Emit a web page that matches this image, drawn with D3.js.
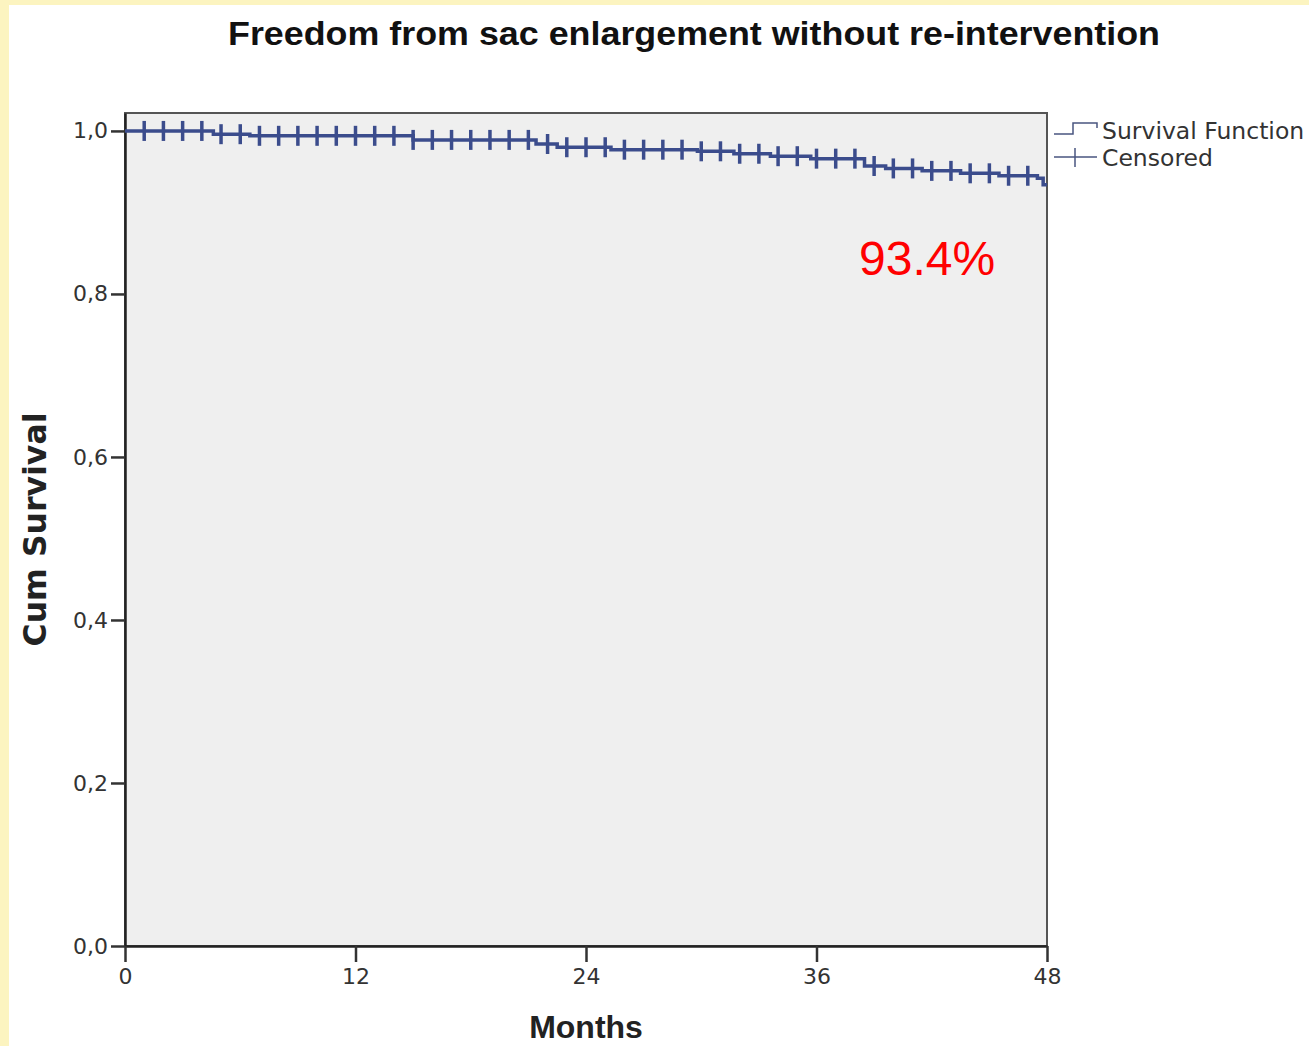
<!DOCTYPE html>
<html>
<head>
<meta charset="utf-8">
<script src="https://cdn.jsdelivr.net/npm/d3@7"></script>
<style>
  html, body { margin: 0; padding: 0; background: #fff; }
  svg { display: block; }
</style>
</head>
<body>
<div id="chart"></div>
<script>
const width = 1309;
const height = 1046;

// step function of the Kaplan-Meier curve (months, cum survival)
const stepTimes = [0, 4.6, 6.5, 15.0, 21.4, 22.5, 25.3, 29.8, 31.7, 33.6, 35.7, 38.5, 39.6, 41.5, 43.5, 45.5, 47.5, 47.8];
const stepSurvival = [1.000, 0.996, 0.994, 0.989, 0.984, 0.980, 0.977, 0.975, 0.972, 0.969, 0.966, 0.957, 0.954, 0.951, 0.948, 0.945, 0.942, 0.934];
const endTime = 48;

// censored cases
const censorTimes = [1, 2, 3, 4, 5, 6, 7, 8, 9, 10, 11, 12, 13, 14, 15, 16, 17, 18, 19, 20, 21, 22, 23, 24,
  25, 26, 27, 28, 29, 30, 31, 32, 33, 34, 35, 36, 37, 38, 39, 40, 41, 42, 43, 44, 45, 46, 47];

const xTicks = [0, 12, 24, 36, 48];
const yTicks = [0, 0.2, 0.4, 0.6, 0.8, 1.0];

const titleText = "Freedom from sac enlargement without re-intervention";
const xTitle = "Months";
const yTitle = "Cum Survival";
const legendLabels = ["Survival Function", "Censored"];
const annotation = "93.4%";

const lineColor = "#3b4c8c";
const margin = { left: 125, right: 1047, top: 113, bottom: 946 };

const svg = d3.select("#chart").append("svg")
  .attr("width", width)
  .attr("height", height);

// yellow page frame
svg.append("rect").attr("x", 0).attr("y", 0).attr("width", width).attr("height", height).attr("fill", "#fcf4c0");
svg.append("rect").attr("x", 9).attr("y", 5).attr("width", width - 9).attr("height", height - 5).attr("fill", "#ffffff");

const x = d3.scaleLinear().domain([0, 48]).range([margin.left, margin.right]);
const y = d3.scaleLinear().domain([0, 1.022]).range([margin.bottom, margin.top]);

// plot background
svg.append("rect")
  .attr("x", x(0)).attr("y", y(1.022))
  .attr("width", x(48) - x(0)).attr("height", y(0) - y(1.022))
  .attr("fill", "#efefef")
  .attr("stroke", "#555")
  .attr("stroke-width", 2);

const comma = d3.formatLocale({ decimal: ",", thousands: ".", grouping: [3], currency: ["", ""] });
const fmt = comma.format(".1f");

// axes
const yAxis = svg.append("g")
  .attr("transform", `translate(${x(0)},0)`)
  .call(d3.axisLeft(y).tickValues(yTicks).tickFormat(fmt).tickSize(14).tickPadding(3).tickSizeOuter(0));

const xAxis = svg.append("g")
  .attr("transform", `translate(0,${y(0)})`)
  .call(d3.axisBottom(x).tickValues(xTicks).tickSize(16).tickPadding(6).tickSizeOuter(0));

[yAxis, xAxis].forEach(g => {
  g.select(".domain").attr("stroke", "#222").attr("stroke-width", 2.5);
  g.selectAll(".tick line").attr("stroke", "#333").attr("stroke-width", 2.5);
  g.selectAll(".tick text")
    .attr("fill", "#333")
    .style("font-family", "'DejaVu Sans', sans-serif")
    .style("font-size", "22px");
});

// survival curve
const pts = stepTimes.map((t, i) => [t, stepSurvival[i]]);
pts.push([endTime, stepSurvival[stepSurvival.length - 1]]);

const line = d3.line()
  .x(d => x(d[0]))
  .y(d => y(d[1]))
  .curve(d3.curveStepAfter);

svg.append("path")
  .datum(pts)
  .attr("fill", "none")
  .attr("stroke", lineColor)
  .attr("stroke-width", 3.5)
  .attr("d", line);

function survivalAt(t) {
  const i = d3.bisectRight(stepTimes, t) - 1;
  return stepSurvival[Math.max(0, i)];
}

svg.append("g")
  .selectAll("line")
  .data(censorTimes)
  .enter().append("line")
  .attr("x1", d => x(d))
  .attr("x2", d => x(d))
  .attr("y1", d => y(survivalAt(d)) - 10)
  .attr("y2", d => y(survivalAt(d)) + 10)
  .attr("stroke", lineColor)
  .attr("stroke-width", 3.5);

// titles
svg.append("text")
  .attr("x", 694).attr("y", 45)
  .attr("text-anchor", "middle")
  .style("font-family", "'Liberation Sans', Arial, sans-serif")
  .style("font-weight", "bold")
  .style("font-size", "34px")
  .attr("textLength", 932)
  .attr("lengthAdjust", "spacingAndGlyphs")
  .attr("fill", "#111")
  .text(titleText);

svg.append("text")
  .attr("x", (x(0) + x(48)) / 2).attr("y", 1038)
  .attr("text-anchor", "middle")
  .style("font-family", "'Liberation Sans', Arial, sans-serif")
  .style("font-weight", "bold")
  .style("font-size", "32px")
  .attr("fill", "#222")
  .text(xTitle);

svg.append("text")
  .attr("transform", `translate(46,${(y(0) + y(1.022)) / 2}) rotate(-90)`)
  .attr("text-anchor", "middle")
  .style("font-family", "'DejaVu Sans', sans-serif")
  .style("font-weight", "bold")
  .style("font-size", "31.5px")
  .attr("fill", "#222")
  .text(yTitle);

// annotation
svg.append("text")
  .attr("x", 859).attr("y", 275)
  .style("font-family", "'Liberation Sans', Arial, sans-serif")
  .style("font-size", "48px")
  .attr("fill", "#ff0000")
  .text(annotation);

// legend
const legend = svg.append("g");
legend.append("path")
  .attr("d", "M1054,134 H1073 V123 H1097 V128")
  .attr("fill", "none")
  .attr("stroke", "#4a5680")
  .attr("stroke-width", 1.5);
legend.append("path")
  .attr("d", "M1054,157 H1097 M1075,148 V167")
  .attr("fill", "none")
  .attr("stroke", "#4a5680")
  .attr("stroke-width", 1.5);
legend.selectAll("text")
  .data(legendLabels)
  .enter().append("text")
  .attr("x", 1102)
  .attr("y", (d, i) => 139 + i * 27)
  .style("font-family", "'DejaVu Sans', sans-serif")
  .style("font-size", "23.5px")
  .attr("fill", "#333")
  .text(d => d);
</script>
</body>
</html>
